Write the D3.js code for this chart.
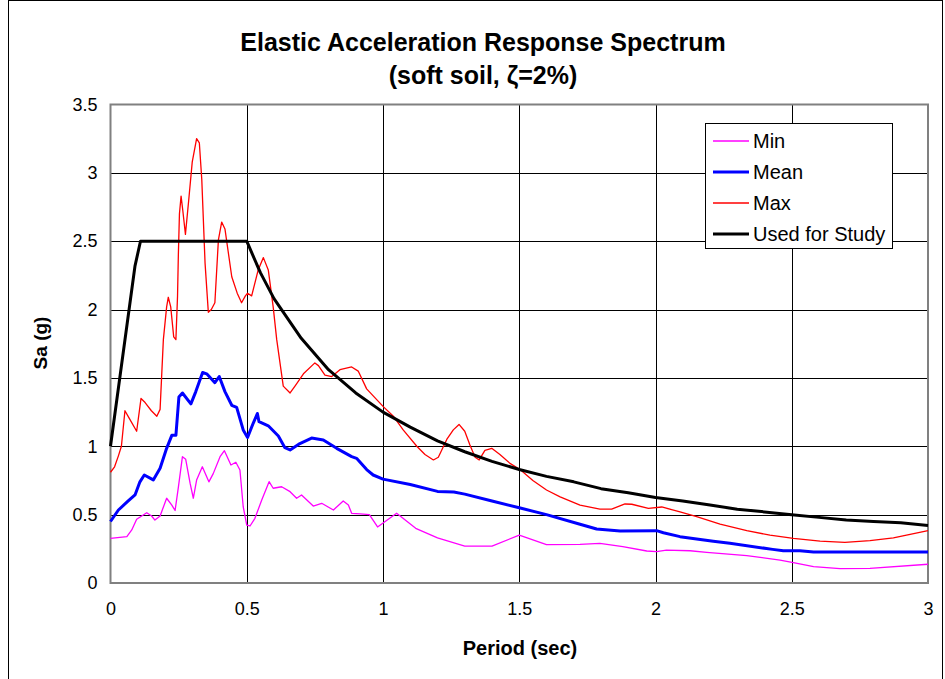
<!DOCTYPE html>
<html><head><meta charset="utf-8">
<script src="https://cdn.jsdelivr.net/npm/d3@7"></script>
<style>body{margin:0;background:#fff}svg{display:block}</style>
</head><body>
<svg id="c" width="945" height="679"></svg>
<script>
const xTicks = [0, 0.5, 1, 1.5, 2, 2.5, 3];
const yTicks = [0, 0.5, 1, 1.5, 2, 2.5, 3, 3.5];
const seriesNames = ["Min", "Mean", "Max", "Used for Study"];

const minT = [0,0.06,0.078,0.096,0.133,0.151,0.163,0.182,0.206,0.225,0.237,0.249,0.264,0.276,0.292,0.304,0.316,0.337,0.361,0.377,0.402,0.418,0.442,0.46,0.475,0.487,0.5,0.512,0.53,0.555,0.582,0.597,0.628,0.659,0.683,0.701,0.744,0.775,0.818,0.854,0.873,0.885,0.916,0.95,0.98,1.05,1.12,1.2,1.3,1.4,1.5,1.6,1.723,1.796,1.88,1.968,2.004,2.04,2.127,2.188,2.335,2.457,2.506,2.58,2.677,2.787,3.0];
const minV = [0.327,0.339,0.388,0.466,0.514,0.49,0.46,0.49,0.62,0.57,0.53,0.70,0.924,0.905,0.73,0.62,0.753,0.85,0.74,0.80,0.924,0.968,0.863,0.883,0.827,0.558,0.424,0.417,0.473,0.607,0.741,0.693,0.704,0.668,0.62,0.644,0.563,0.583,0.534,0.60,0.57,0.51,0.505,0.5,0.41,0.51,0.40,0.33,0.27,0.27,0.35,0.28,0.283,0.29,0.266,0.234,0.229,0.241,0.236,0.224,0.20,0.168,0.149,0.12,0.105,0.107,0.137];

const meanT = [0,0.029,0.065,0.09,0.108,0.124,0.157,0.182,0.206,0.225,0.24,0.251,0.264,0.295,0.313,0.338,0.353,0.383,0.399,0.42,0.445,0.463,0.487,0.503,0.524,0.539,0.545,0.579,0.616,0.64,0.659,0.695,0.738,0.781,0.83,0.885,0.903,0.94,0.964,1.0,1.1,1.2,1.26,1.3,1.4,1.5,1.6,1.723,1.784,1.87,2.004,2.029,2.09,2.212,2.273,2.43,2.469,2.53,2.58,3.0];
const meanV = [0.45,0.534,0.60,0.644,0.74,0.79,0.754,0.84,0.985,1.08,1.08,1.36,1.39,1.31,1.40,1.54,1.53,1.465,1.51,1.40,1.30,1.285,1.12,1.065,1.17,1.24,1.18,1.15,1.075,0.99,0.973,1.02,1.06,1.046,0.985,0.924,0.912,0.83,0.79,0.76,0.72,0.67,0.665,0.65,0.6,0.55,0.5,0.43,0.395,0.38,0.383,0.368,0.339,0.305,0.29,0.246,0.236,0.236,0.227,0.227];

const maxT = [0,0.015,0.029,0.04,0.053,0.07,0.096,0.112,0.127,0.15,0.17,0.182,0.194,0.206,0.212,0.221,0.232,0.240,0.246,0.249,0.253,0.259,0.265,0.275,0.287,0.30,0.316,0.326,0.335,0.347,0.359,0.37,0.383,0.396,0.408,0.42,0.445,0.465,0.481,0.495,0.503,0.518,0.542,0.561,0.579,0.597,0.61,0.634,0.659,0.677,0.708,0.75,0.763,0.787,0.812,0.842,0.885,0.909,0.94,1.001,1.038,1.074,1.124,1.154,1.185,1.203,1.234,1.258,1.279,1.30,1.319,1.338,1.353,1.374,1.399,1.429,1.466,1.503,1.55,1.6,1.65,1.723,1.796,1.839,1.888,1.913,1.974,2.023,2.09,2.151,2.237,2.335,2.42,2.506,2.604,2.695,2.787,2.873,3.0];
const maxV = [0.81,0.85,0.93,1.0,1.26,1.2,1.11,1.35,1.32,1.26,1.22,1.27,1.78,2.02,2.09,2.02,1.8,1.78,2.1,2.4,2.7,2.83,2.73,2.55,2.8,3.08,3.25,3.22,2.95,2.34,1.98,2.0,2.05,2.51,2.64,2.59,2.24,2.12,2.05,2.1,2.12,2.10,2.29,2.38,2.29,2.02,1.78,1.44,1.39,1.44,1.53,1.61,1.59,1.52,1.51,1.56,1.58,1.55,1.42,1.29,1.22,1.12,1.0,0.94,0.90,0.92,1.05,1.12,1.16,1.11,1.01,0.92,0.90,0.97,0.985,0.94,0.875,0.83,0.75,0.68,0.63,0.57,0.54,0.54,0.578,0.576,0.546,0.556,0.52,0.485,0.43,0.383,0.35,0.327,0.307,0.297,0.31,0.33,0.383];

const usedT = [0,0.09,0.11,0.5,0.55,0.6,0.7,0.8,0.9,1.0,1.1,1.2,1.3,1.4,1.5,1.6,1.7,1.8,1.9,2.0,2.1,2.2,2.3,2.4,2.5,2.6,2.7,2.8,2.9,3.0];
const usedV = [1.0,2.32,2.5,2.5,2.27,2.08,1.79,1.56,1.39,1.25,1.14,1.04,0.96,0.89,0.83,0.78,0.74,0.69,0.66,0.625,0.6,0.57,0.54,0.52,0.5,0.48,0.46,0.45,0.44,0.42];

const svg = d3.select("#c");
const font = "Arial, 'Liberation Sans', sans-serif";
const L = 110.5, R = 928, T = 104.5, B = 583;
const x = d3.scaleLinear().domain([0, 3]).range([L, R]);
const y = d3.scaleLinear().domain([0, 3.5]).range([B, T]);

// outer frame
svg.append("rect").attr("x", 8.5).attr("y", 0.5).attr("width", 934).attr("height", 690)
  .attr("fill", "none").attr("stroke", "#000").attr("stroke-width", 1);

// gridlines
const g = svg.append("g");
g.selectAll(".hg").data(yTicks.slice(1, -1)).join("line")
  .attr("x1", L).attr("x2", R).attr("y1", d => Math.round(y(d)) + 0.5).attr("y2", d => Math.round(y(d)) + 0.5)
  .attr("stroke", "#000").attr("stroke-width", 1);
g.selectAll(".vg").data(xTicks.slice(1, -1)).join("line")
  .attr("y1", T).attr("y2", B).attr("x1", d => Math.round(x(d)) + 0.5).attr("x2", d => Math.round(x(d)) + 0.5)
  .attr("stroke", "#000").attr("stroke-width", 1);
svg.append("rect").attr("x", L).attr("y", T).attr("width", R - L).attr("height", B - T)
  .attr("fill", "none").attr("stroke", "#808080").attr("stroke-width", 2);

// axes
const xAxis = d3.axisBottom(x).tickValues(xTicks).tickSize(0).tickPadding(19).tickFormat(d3.format("~g"));
const yAxis = d3.axisLeft(y).tickValues(yTicks).tickSize(0).tickPadding(13).tickFormat(d3.format("~g"));
const gx = svg.append("g").attr("transform", `translate(0,${B})`).call(xAxis);
const gy = svg.append("g").attr("transform", `translate(${L},0)`).call(yAxis);
[gx, gy].forEach(a => {
  a.select(".domain").remove();
  a.selectAll("text").attr("font-family", font).attr("font-size", 18).attr("fill", "#000");
});

// series
const line = d3.line().x(d => x(d[0])).y(d => y(d[1]));
const zip = (a, b) => a.map((t, i) => [t, b[i]]);
const series = [
  {name: seriesNames[0], data: zip(minT, minV), color: "#FF00FF", w: 1.3},
  {name: seriesNames[2], data: zip(maxT, maxV), color: "#FF0000", w: 1.3},
  {name: seriesNames[1], data: zip(meanT, meanV), color: "#0000FF", w: 3},
  {name: seriesNames[3], data: zip(usedT, usedV), color: "#000000", w: 3}
];
svg.append("g").selectAll("path").data(series).join("path")
  .attr("d", d => line(d.data)).attr("fill", "none")
  .attr("stroke", d => d.color).attr("stroke-width", d => d.w)
  .attr("stroke-linejoin", "round");

// titles
svg.append("text").attr("x", 483).attr("y", 51).attr("text-anchor", "middle")
  .attr("font-family", font).attr("font-weight", "bold").attr("font-size", 25)
  .text("Elastic Acceleration Response Spectrum");
svg.append("text").attr("x", 483).attr("y", 84).attr("text-anchor", "middle")
  .attr("font-family", font).attr("font-weight", "bold").attr("font-size", 25)
  .text("(soft soil, ζ=2%)");
svg.append("text").attr("x", 520).attr("y", 655).attr("text-anchor", "middle")
  .attr("font-family", font).attr("font-weight", "bold").attr("font-size", 20)
  .text("Period (sec)");
svg.append("text").attr("transform", "translate(47,343) rotate(-90)").attr("text-anchor", "middle")
  .attr("font-family", font).attr("font-weight", "bold").attr("font-size", 19)
  .text("Sa (g)");

// legend
const lg = svg.append("g");
lg.append("rect").attr("x", 705.5).attr("y", 123.5).attr("width", 187).attr("height", 125)
  .attr("fill", "#fff").attr("stroke", "#000").attr("stroke-width", 1);
const legOrder = [series[0], series[2], series[1], series[3]];
legOrder.forEach((s, i) => {
  const yy = 141 + i * 31;
  lg.append("line").attr("x1", 713).attr("x2", 749).attr("y1", yy).attr("y2", yy)
    .attr("stroke", s.color).attr("stroke-width", s.w);
  lg.append("text").attr("x", 753).attr("y", yy + 7).attr("font-family", font).attr("font-size", 20)
    .text(s.name);
});
</script>
</body></html>
